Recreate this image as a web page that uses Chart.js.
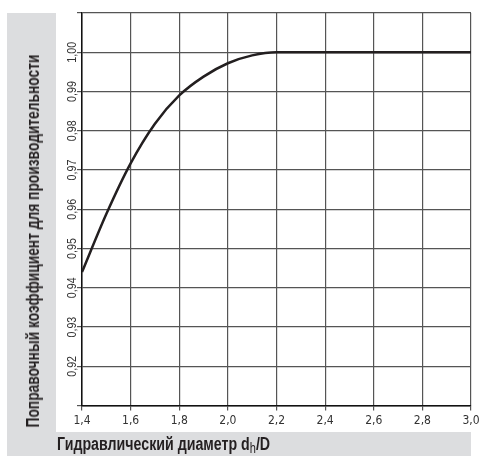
<!DOCTYPE html>
<html>
<head>
<meta charset="utf-8">
<script src="https://cdn.jsdelivr.net/npm/chart.js@4.4.1/dist/chart.umd.min.js"></script>
<style>
  body { margin: 0; background: #fff; }
  #wrap { position: relative; width: 480px; height: 456px; overflow: hidden; }
  .band { position: absolute; background: #dcdddf; }
  #bandLeft { left: 7px; top: 13px; width: 49px; height: 443px; }
  #bandBottom { left: 7px; top: 432px; width: 464px; height: 24px; }
  canvas { position: absolute; left: 0; top: 0; }
  .title { position: absolute; font-family: "Liberation Sans", Arial, sans-serif;
           font-weight: bold; font-size: 18px; line-height: 20px; color: #231f20; white-space: nowrap; }
  #yTitle { left: 33px; top: 241px; }
  #xTitle { left: 57px; top: 434px; transform-origin: 0 50%; }
  #xTitle sub { font-size: 14px; vertical-align: -3px; font-weight: normal; }
</style>
</head>
<body>
<div id="wrap">
  <div class="band" id="bandLeft"></div>
  <div class="band" id="bandBottom"></div>
  <canvas id="chart" width="480" height="456"></canvas>
  <div class="title" id="yTitle">Поправочный коэффициент для производительности</div>
  <div class="title" id="xTitle">Гидравлический диаметр d<sub>h</sub>/D</div>
</div>
<script>
// hydraulic diameter ratio dh/D and correction factor
const ratio  = [1.4, 1.5, 1.6, 1.7, 1.8, 1.9, 2.0, 2.1, 2.2, 2.6, 3.0];
const factor = [0.944, 0.9588, 0.9717, 0.9818, 0.989, 0.9938, 0.9972, 0.9992, 1.0, 1.0, 1.0];

const xMin = 1.4, xMax = 3.0, xStep = 0.2;
const yMin = 0.91, yMax = 1.01, yStep = 0.01;
const yLabels = ['0,92', '0,93', '0,94', '0,95', '0,96', '0,97', '0,98', '0,99', '1,00'];

const tickFont = '"DejaVu Sans Condensed", "Liberation Sans", sans-serif';

// squeeze the titles to look like a condensed face
const yTitle = document.getElementById('yTitle');
const ys = 373 / yTitle.offsetWidth;
yTitle.style.transform = 'translate(-50%, -50%) rotate(-90deg) scaleX(' + ys + ')';
const xTitle = document.getElementById('xTitle');
xTitle.style.transform = 'scaleX(' + (213 / xTitle.offsetWidth) + ')';

// y tick labels are drawn rotated, like in the original
const rotatedYLabels = {
    id: 'rotatedYLabels',
    afterDraw(chart) {
        const ctx = chart.ctx;
        const y = chart.scales.y;
        ctx.save();
        ctx.font = '13px "Liberation Sans", Arial, sans-serif';
        ctx.fillStyle = '#333';
        ctx.textAlign = 'center';
        ctx.textBaseline = 'middle';
        yLabels.forEach(lbl => {
            const v = parseFloat(lbl.replace(',', '.'));
            const py = y.getPixelForValue(v);
            ctx.save();
            ctx.translate(chart.chartArea.left - 10, py);
            ctx.rotate(-Math.PI / 2);
            ctx.scale(0.82, 1);
            ctx.fillText(lbl, 0, 0);
            ctx.restore();
        });
        ctx.restore();
    }
};

new Chart(document.getElementById('chart'), {
    type: 'line',
    data: {
        datasets: [{
            data: ratio.map((r, i) => ({ x: r, y: factor[i] })),
            borderColor: '#231f20',
            borderWidth: 2.5,
            pointRadius: 0,
            fill: false,
            cubicInterpolationMode: 'monotone'
        }]
    },
    options: {
        responsive: false,
        animation: false,
        layout: { padding: { left: 77, top: 13, right: 0, bottom: 25 } },
        plugins: { legend: { display: false }, tooltip: { enabled: false } },
        scales: {
            x: {
                type: 'linear',
                min: xMin, max: xMax,
                afterFit: s => { s.paddingRight = 9; },
                ticks: {
                    stepSize: xStep,
                    color: '#333',
                    font: { family: tickFont, size: 12 },
                    padding: 3,
                    maxRotation: 0,
                    callback: v => v.toFixed(1).replace('.', ',')
                },
                grid: { color: '#555', lineWidth: 1.2, tickLength: 5 },
                border: { color: '#111', width: 1.5 }
            },
            y: {
                min: yMin, max: yMax,
                ticks: { stepSize: yStep, display: false },
                grid: { color: '#555', lineWidth: 1.2, tickLength: 5, drawTicks: true },
                border: { color: '#111', width: 1.5 }
            }
        }
    },
    plugins: [rotatedYLabels]
});
</script>
</body>
</html>
